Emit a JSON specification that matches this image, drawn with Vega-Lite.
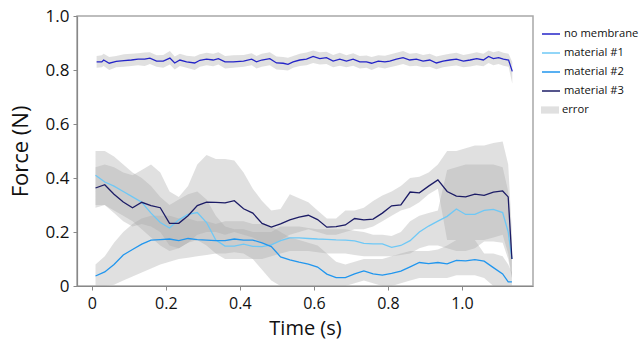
{
  "$schema": "https://vega.github.io/schema/vega-lite/v6.json",
  "width": 456,
  "height": 270,
  "autosize": "none",
  "padding": {"left": 77, "top": 16, "right": 106, "bottom": 55},
  "background": "white",
  "config": {
    "font": "Open Sans",
    "view": {"stroke": "#a8a8a8", "strokeWidth": 1.5},
    "axis": {"grid": false, "domainColor": "#888888", "domainWidth": 1.2, "tickColor": "#888888", "tickSize": 4, "labelColor": "#111111", "titleColor": "#111111", "labelFont": "Open Sans", "titleFont": "Open Sans", "titleFontWeight": "normal"},
    "legend": {"labelFont": "Open Sans", "labelFontSize": 11.2, "labelColor": "#111111", "orient": "none", "padding": 0, "rowPadding": 3, "labelOffset": 3}
  },
  "data": {"values": [
    {"s":"material #1","t":0.01,"v":0.41,"lo":0.30,"hi":0.50},
    {"s":"material #1","t":0.035,"v":0.385,"lo":0.30,"hi":0.50},
    {"s":"material #1","t":0.06,"v":0.37,"lo":0.28,"hi":0.48},
    {"s":"material #1","t":0.085,"v":0.35,"lo":0.26,"hi":0.45},
    {"s":"material #1","t":0.11,"v":0.33,"lo":0.24,"hi":0.42},
    {"s":"material #1","t":0.135,"v":0.31,"lo":0.21,"hi":0.40},
    {"s":"material #1","t":0.16,"v":0.27,"lo":0.18,"hi":0.37},
    {"s":"material #1","t":0.185,"v":0.235,"lo":0.15,"hi":0.33},
    {"s":"material #1","t":0.21,"v":0.215,"lo":0.13,"hi":0.30},
    {"s":"material #1","t":0.235,"v":0.245,"lo":0.14,"hi":0.32},
    {"s":"material #1","t":0.26,"v":0.265,"lo":0.16,"hi":0.34},
    {"s":"material #1","t":0.285,"v":0.272,"lo":0.17,"hi":0.35},
    {"s":"material #1","t":0.31,"v":0.235,"lo":0.15,"hi":0.32},
    {"s":"material #1","t":0.335,"v":0.17,"lo":0.12,"hi":0.26},
    {"s":"material #1","t":0.36,"v":0.148,"lo":0.10,"hi":0.22},
    {"s":"material #1","t":0.385,"v":0.148,"lo":0.10,"hi":0.21},
    {"s":"material #1","t":0.41,"v":0.155,"lo":0.10,"hi":0.21},
    {"s":"material #1","t":0.435,"v":0.147,"lo":0.10,"hi":0.20},
    {"s":"material #1","t":0.46,"v":0.146,"lo":0.10,"hi":0.20},
    {"s":"material #1","t":0.485,"v":0.152,"lo":0.11,"hi":0.20},
    {"s":"material #1","t":0.51,"v":0.168,"lo":0.12,"hi":0.22},
    {"s":"material #1","t":0.535,"v":0.178,"lo":0.13,"hi":0.22},
    {"s":"material #1","t":0.56,"v":0.178,"lo":0.13,"hi":0.22},
    {"s":"material #1","t":0.585,"v":0.176,"lo":0.13,"hi":0.215},
    {"s":"material #1","t":0.61,"v":0.174,"lo":0.125,"hi":0.21},
    {"s":"material #1","t":0.635,"v":0.173,"lo":0.12,"hi":0.21},
    {"s":"material #1","t":0.66,"v":0.171,"lo":0.12,"hi":0.21},
    {"s":"material #1","t":0.685,"v":0.17,"lo":0.12,"hi":0.21},
    {"s":"material #1","t":0.71,"v":0.167,"lo":0.115,"hi":0.205},
    {"s":"material #1","t":0.735,"v":0.158,"lo":0.11,"hi":0.20},
    {"s":"material #1","t":0.76,"v":0.156,"lo":0.11,"hi":0.19},
    {"s":"material #1","t":0.785,"v":0.156,"lo":0.11,"hi":0.19},
    {"s":"material #1","t":0.81,"v":0.143,"lo":0.11,"hi":0.185},
    {"s":"material #1","t":0.835,"v":0.15,"lo":0.115,"hi":0.20},
    {"s":"material #1","t":0.86,"v":0.168,"lo":0.12,"hi":0.24},
    {"s":"material #1","t":0.885,"v":0.20,"lo":0.14,"hi":0.26},
    {"s":"material #1","t":0.91,"v":0.222,"lo":0.15,"hi":0.27},
    {"s":"material #1","t":0.935,"v":0.24,"lo":0.15,"hi":0.28},
    {"s":"material #1","t":0.96,"v":0.258,"lo":0.14,"hi":0.43},
    {"s":"material #1","t":0.985,"v":0.285,"lo":0.13,"hi":0.44},
    {"s":"material #1","t":1.01,"v":0.265,"lo":0.13,"hi":0.45},
    {"s":"material #1","t":1.035,"v":0.265,"lo":0.14,"hi":0.45},
    {"s":"material #1","t":1.06,"v":0.28,"lo":0.165,"hi":0.45},
    {"s":"material #1","t":1.085,"v":0.284,"lo":0.165,"hi":0.45},
    {"s":"material #1","t":1.11,"v":0.272,"lo":0.16,"hi":0.44},
    {"s":"material #1","t":1.125,"v":0.20,"lo":0.10,"hi":0.35},
    {"s":"material #1","t":1.135,"v":0.10,"lo":0.03,"hi":0.15},

    {"s":"material #2","t":0.01,"v":0.037,"lo":0.0,"hi":0.08},
    {"s":"material #2","t":0.035,"v":0.052,"lo":0.0,"hi":0.11},
    {"s":"material #2","t":0.06,"v":0.08,"lo":0.005,"hi":0.16},
    {"s":"material #2","t":0.085,"v":0.115,"lo":0.02,"hi":0.20},
    {"s":"material #2","t":0.11,"v":0.135,"lo":0.035,"hi":0.23},
    {"s":"material #2","t":0.135,"v":0.155,"lo":0.05,"hi":0.25},
    {"s":"material #2","t":0.16,"v":0.17,"lo":0.065,"hi":0.26},
    {"s":"material #2","t":0.185,"v":0.172,"lo":0.08,"hi":0.26},
    {"s":"material #2","t":0.21,"v":0.174,"lo":0.09,"hi":0.26},
    {"s":"material #2","t":0.235,"v":0.168,"lo":0.10,"hi":0.25},
    {"s":"material #2","t":0.26,"v":0.176,"lo":0.105,"hi":0.25},
    {"s":"material #2","t":0.285,"v":0.172,"lo":0.11,"hi":0.24},
    {"s":"material #2","t":0.31,"v":0.17,"lo":0.115,"hi":0.24},
    {"s":"material #2","t":0.335,"v":0.168,"lo":0.12,"hi":0.23},
    {"s":"material #2","t":0.36,"v":0.168,"lo":0.12,"hi":0.24},
    {"s":"material #2","t":0.385,"v":0.174,"lo":0.125,"hi":0.24},
    {"s":"material #2","t":0.41,"v":0.17,"lo":0.12,"hi":0.24},
    {"s":"material #2","t":0.435,"v":0.17,"lo":0.10,"hi":0.23},
    {"s":"material #2","t":0.46,"v":0.16,"lo":0.06,"hi":0.23},
    {"s":"material #2","t":0.485,"v":0.146,"lo":0.02,"hi":0.22},
    {"s":"material #2","t":0.51,"v":0.108,"lo":0.0,"hi":0.20},
    {"s":"material #2","t":0.535,"v":0.097,"lo":0.0,"hi":0.18},
    {"s":"material #2","t":0.56,"v":0.088,"lo":0.0,"hi":0.17},
    {"s":"material #2","t":0.585,"v":0.081,"lo":0.0,"hi":0.16},
    {"s":"material #2","t":0.61,"v":0.07,"lo":0.0,"hi":0.15},
    {"s":"material #2","t":0.635,"v":0.044,"lo":0.0,"hi":0.12},
    {"s":"material #2","t":0.66,"v":0.031,"lo":0.0,"hi":0.09},
    {"s":"material #2","t":0.685,"v":0.031,"lo":0.0,"hi":0.08},
    {"s":"material #2","t":0.71,"v":0.045,"lo":0.01,"hi":0.09},
    {"s":"material #2","t":0.735,"v":0.056,"lo":0.02,"hi":0.10},
    {"s":"material #2","t":0.76,"v":0.045,"lo":0.01,"hi":0.10},
    {"s":"material #2","t":0.785,"v":0.04,"lo":0.0,"hi":0.10},
    {"s":"material #2","t":0.81,"v":0.047,"lo":0.0,"hi":0.11},
    {"s":"material #2","t":0.835,"v":0.055,"lo":0.01,"hi":0.12},
    {"s":"material #2","t":0.86,"v":0.071,"lo":0.02,"hi":0.13},
    {"s":"material #2","t":0.885,"v":0.087,"lo":0.03,"hi":0.13},
    {"s":"material #2","t":0.91,"v":0.083,"lo":0.03,"hi":0.13},
    {"s":"material #2","t":0.935,"v":0.087,"lo":0.03,"hi":0.135},
    {"s":"material #2","t":0.96,"v":0.082,"lo":0.03,"hi":0.15},
    {"s":"material #2","t":0.985,"v":0.095,"lo":0.04,"hi":0.17},
    {"s":"material #2","t":1.01,"v":0.093,"lo":0.04,"hi":0.17},
    {"s":"material #2","t":1.035,"v":0.098,"lo":0.04,"hi":0.17},
    {"s":"material #2","t":1.06,"v":0.092,"lo":0.03,"hi":0.12},
    {"s":"material #2","t":1.085,"v":0.068,"lo":0.0,"hi":0.12},
    {"s":"material #2","t":1.11,"v":0.045,"lo":0.0,"hi":0.11},
    {"s":"material #2","t":1.125,"v":0.015,"lo":0.0,"hi":0.08},
    {"s":"material #2","t":1.135,"v":0.015,"lo":0.0,"hi":0.05},

    {"s":"material #3","t":0.01,"v":0.363,"lo":0.29,"hi":0.44},
    {"s":"material #3","t":0.035,"v":0.375,"lo":0.30,"hi":0.45},
    {"s":"material #3","t":0.06,"v":0.34,"lo":0.27,"hi":0.44},
    {"s":"material #3","t":0.085,"v":0.311,"lo":0.24,"hi":0.42},
    {"s":"material #3","t":0.11,"v":0.29,"lo":0.22,"hi":0.41},
    {"s":"material #3","t":0.135,"v":0.31,"lo":0.23,"hi":0.43},
    {"s":"material #3","t":0.16,"v":0.298,"lo":0.22,"hi":0.45},
    {"s":"material #3","t":0.185,"v":0.29,"lo":0.20,"hi":0.42},
    {"s":"material #3","t":0.21,"v":0.232,"lo":0.15,"hi":0.35},
    {"s":"material #3","t":0.235,"v":0.232,"lo":0.14,"hi":0.33},
    {"s":"material #3","t":0.26,"v":0.26,"lo":0.16,"hi":0.37},
    {"s":"material #3","t":0.285,"v":0.298,"lo":0.19,"hi":0.45},
    {"s":"material #3","t":0.31,"v":0.311,"lo":0.20,"hi":0.485},
    {"s":"material #3","t":0.335,"v":0.31,"lo":0.20,"hi":0.47},
    {"s":"material #3","t":0.36,"v":0.308,"lo":0.19,"hi":0.47},
    {"s":"material #3","t":0.385,"v":0.316,"lo":0.20,"hi":0.465},
    {"s":"material #3","t":0.41,"v":0.286,"lo":0.19,"hi":0.42},
    {"s":"material #3","t":0.435,"v":0.27,"lo":0.18,"hi":0.36},
    {"s":"material #3","t":0.46,"v":0.232,"lo":0.16,"hi":0.315},
    {"s":"material #3","t":0.485,"v":0.218,"lo":0.15,"hi":0.28},
    {"s":"material #3","t":0.51,"v":0.23,"lo":0.17,"hi":0.285},
    {"s":"material #3","t":0.535,"v":0.245,"lo":0.19,"hi":0.34},
    {"s":"material #3","t":0.56,"v":0.255,"lo":0.20,"hi":0.325},
    {"s":"material #3","t":0.585,"v":0.262,"lo":0.21,"hi":0.31},
    {"s":"material #3","t":0.61,"v":0.246,"lo":0.20,"hi":0.28},
    {"s":"material #3","t":0.635,"v":0.218,"lo":0.19,"hi":0.25},
    {"s":"material #3","t":0.66,"v":0.22,"lo":0.19,"hi":0.25},
    {"s":"material #3","t":0.685,"v":0.226,"lo":0.20,"hi":0.28},
    {"s":"material #3","t":0.71,"v":0.25,"lo":0.21,"hi":0.28},
    {"s":"material #3","t":0.735,"v":0.245,"lo":0.21,"hi":0.29},
    {"s":"material #3","t":0.76,"v":0.248,"lo":0.22,"hi":0.315},
    {"s":"material #3","t":0.785,"v":0.27,"lo":0.24,"hi":0.335},
    {"s":"material #3","t":0.81,"v":0.297,"lo":0.26,"hi":0.35},
    {"s":"material #3","t":0.835,"v":0.30,"lo":0.28,"hi":0.37},
    {"s":"material #3","t":0.86,"v":0.348,"lo":0.29,"hi":0.40},
    {"s":"material #3","t":0.885,"v":0.345,"lo":0.31,"hi":0.405},
    {"s":"material #3","t":0.91,"v":0.37,"lo":0.34,"hi":0.42},
    {"s":"material #3","t":0.935,"v":0.393,"lo":0.36,"hi":0.45},
    {"s":"material #3","t":0.96,"v":0.35,"lo":0.17,"hi":0.50},
    {"s":"material #3","t":0.985,"v":0.333,"lo":0.17,"hi":0.50},
    {"s":"material #3","t":1.01,"v":0.33,"lo":0.17,"hi":0.51},
    {"s":"material #3","t":1.035,"v":0.34,"lo":0.17,"hi":0.52},
    {"s":"material #3","t":1.06,"v":0.336,"lo":0.17,"hi":0.52},
    {"s":"material #3","t":1.085,"v":0.348,"lo":0.18,"hi":0.53},
    {"s":"material #3","t":1.11,"v":0.352,"lo":0.19,"hi":0.535},
    {"s":"material #3","t":1.125,"v":0.33,"lo":0.12,"hi":0.45},
    {"s":"material #3","t":1.135,"v":0.10,"lo":0.03,"hi":0.20},

    {"s":"no membrane","t":0.013,"v":0.830,"lo":0.808,"hi":0.852},
    {"s":"no membrane","t":0.027,"v":0.830,"lo":0.810,"hi":0.855},
    {"s":"no membrane","t":0.032,"v":0.837,"lo":0.815,"hi":0.860},
    {"s":"no membrane","t":0.047,"v":0.825,"lo":0.800,"hi":0.848},
    {"s":"no membrane","t":0.066,"v":0.832,"lo":0.810,"hi":0.852},
    {"s":"no membrane","t":0.087,"v":0.835,"lo":0.812,"hi":0.858},
    {"s":"no membrane","t":0.107,"v":0.837,"lo":0.815,"hi":0.860},
    {"s":"no membrane","t":0.125,"v":0.840,"lo":0.818,"hi":0.862},
    {"s":"no membrane","t":0.143,"v":0.840,"lo":0.815,"hi":0.865},
    {"s":"no membrane","t":0.157,"v":0.844,"lo":0.822,"hi":0.866},
    {"s":"no membrane","t":0.175,"v":0.833,"lo":0.812,"hi":0.855},
    {"s":"no membrane","t":0.193,"v":0.833,"lo":0.808,"hi":0.856},
    {"s":"no membrane","t":0.211,"v":0.844,"lo":0.820,"hi":0.870},
    {"s":"no membrane","t":0.224,"v":0.826,"lo":0.802,"hi":0.850},
    {"s":"no membrane","t":0.238,"v":0.837,"lo":0.815,"hi":0.860},
    {"s":"no membrane","t":0.256,"v":0.830,"lo":0.808,"hi":0.853},
    {"s":"no membrane","t":0.278,"v":0.826,"lo":0.800,"hi":0.850},
    {"s":"no membrane","t":0.292,"v":0.836,"lo":0.812,"hi":0.858},
    {"s":"no membrane","t":0.310,"v":0.840,"lo":0.818,"hi":0.864},
    {"s":"no membrane","t":0.328,"v":0.837,"lo":0.814,"hi":0.860},
    {"s":"no membrane","t":0.342,"v":0.842,"lo":0.820,"hi":0.866},
    {"s":"no membrane","t":0.360,"v":0.830,"lo":0.806,"hi":0.852},
    {"s":"no membrane","t":0.382,"v":0.830,"lo":0.808,"hi":0.855},
    {"s":"no membrane","t":0.410,"v":0.833,"lo":0.812,"hi":0.856},
    {"s":"no membrane","t":0.432,"v":0.840,"lo":0.818,"hi":0.862},
    {"s":"no membrane","t":0.445,"v":0.830,"lo":0.806,"hi":0.852},
    {"s":"no membrane","t":0.459,"v":0.837,"lo":0.812,"hi":0.860},
    {"s":"no membrane","t":0.481,"v":0.842,"lo":0.818,"hi":0.866},
    {"s":"no membrane","t":0.499,"v":0.826,"lo":0.802,"hi":0.850},
    {"s":"no membrane","t":0.517,"v":0.825,"lo":0.800,"hi":0.848},
    {"s":"no membrane","t":0.530,"v":0.821,"lo":0.798,"hi":0.845},
    {"s":"no membrane","t":0.544,"v":0.830,"lo":0.808,"hi":0.852},
    {"s":"no membrane","t":0.562,"v":0.837,"lo":0.815,"hi":0.860},
    {"s":"no membrane","t":0.580,"v":0.840,"lo":0.818,"hi":0.865},
    {"s":"no membrane","t":0.598,"v":0.850,"lo":0.826,"hi":0.872},
    {"s":"no membrane","t":0.616,"v":0.842,"lo":0.820,"hi":0.866},
    {"s":"no membrane","t":0.634,"v":0.846,"lo":0.822,"hi":0.868},
    {"s":"no membrane","t":0.652,"v":0.833,"lo":0.810,"hi":0.856},
    {"s":"no membrane","t":0.670,"v":0.840,"lo":0.816,"hi":0.864},
    {"s":"no membrane","t":0.688,"v":0.833,"lo":0.810,"hi":0.855},
    {"s":"no membrane","t":0.706,"v":0.840,"lo":0.816,"hi":0.862},
    {"s":"no membrane","t":0.724,"v":0.830,"lo":0.806,"hi":0.852},
    {"s":"no membrane","t":0.742,"v":0.830,"lo":0.808,"hi":0.854},
    {"s":"no membrane","t":0.756,"v":0.825,"lo":0.800,"hi":0.848},
    {"s":"no membrane","t":0.774,"v":0.833,"lo":0.810,"hi":0.855},
    {"s":"no membrane","t":0.792,"v":0.830,"lo":0.806,"hi":0.853},
    {"s":"no membrane","t":0.805,"v":0.833,"lo":0.810,"hi":0.857},
    {"s":"no membrane","t":0.823,"v":0.840,"lo":0.816,"hi":0.864},
    {"s":"no membrane","t":0.841,"v":0.846,"lo":0.822,"hi":0.870},
    {"s":"no membrane","t":0.859,"v":0.837,"lo":0.814,"hi":0.860},
    {"s":"no membrane","t":0.877,"v":0.840,"lo":0.816,"hi":0.863},
    {"s":"no membrane","t":0.895,"v":0.833,"lo":0.810,"hi":0.856},
    {"s":"no membrane","t":0.913,"v":0.837,"lo":0.812,"hi":0.860},
    {"s":"no membrane","t":0.931,"v":0.826,"lo":0.803,"hi":0.850},
    {"s":"no membrane","t":0.949,"v":0.833,"lo":0.810,"hi":0.856},
    {"s":"no membrane","t":0.967,"v":0.837,"lo":0.814,"hi":0.860},
    {"s":"no membrane","t":0.985,"v":0.840,"lo":0.817,"hi":0.864},
    {"s":"no membrane","t":1.004,"v":0.833,"lo":0.810,"hi":0.856},
    {"s":"no membrane","t":1.022,"v":0.837,"lo":0.813,"hi":0.860},
    {"s":"no membrane","t":1.040,"v":0.842,"lo":0.818,"hi":0.866},
    {"s":"no membrane","t":1.058,"v":0.837,"lo":0.814,"hi":0.860},
    {"s":"no membrane","t":1.072,"v":0.850,"lo":0.826,"hi":0.872},
    {"s":"no membrane","t":1.085,"v":0.842,"lo":0.818,"hi":0.866},
    {"s":"no membrane","t":1.099,"v":0.846,"lo":0.822,"hi":0.870},
    {"s":"no membrane","t":1.112,"v":0.840,"lo":0.816,"hi":0.864},
    {"s":"no membrane","t":1.126,"v":0.837,"lo":0.812,"hi":0.860},
    {"s":"no membrane","t":1.136,"v":0.795,"lo":0.750,"hi":0.830}
  ]},
  "encoding": {
    "x": {"field": "t", "type": "quantitative", "scale": {"domain": [-0.04, 1.192], "nice": false, "zero": false},
      "axis": {"values": [0, 0.2, 0.4, 0.6, 0.8, 1.0], "labelExpr": "datum.value == 0 ? '0' : format(datum.value, '.1f')", "title": "Time (s)", "labelFontSize": 16, "titleFontSize": 20, "labelPadding": 5, "titlePadding": 7}}
  },
  "layer": [
    {
      "mark": {"type": "area", "opacity": 0.35, "interpolate": "linear"},
      "encoding": {
        "y": {"field": "lo", "type": "quantitative", "scale": {"domain": [0, 1], "nice": false},
          "axis": {"values": [0, 0.2, 0.4, 0.6, 0.8, 1.0], "labelExpr": "datum.value == 0 ? '0' : format(datum.value, '.1f')", "title": "Force (N)", "labelFontSize": 17, "titleFontSize": 22, "labelPadding": 4, "titlePadding": 13}},
        "y2": {"field": "hi"},
        "detail": {"field": "s"},
        "fill": {"datum": "error", "type": "nominal", "scale": {"domain": ["error"], "range": ["#a6a6a6"]},
          "legend": {"title": null, "orient": "none", "legendX": 464, "legendY": 85, "symbolType": "M-1,-0.4H1V0.4H-1Z", "symbolSize": 324, "symbolOpacity": 0.35, "symbolStrokeWidth": 0}}
      }
    },
    {
      "mark": {"type": "line", "strokeWidth": 1.3, "interpolate": "linear"},
      "encoding": {
        "y": {"field": "v", "type": "quantitative"},
        "color": {"field": "s", "type": "nominal",
          "scale": {"domain": ["no membrane", "material #1", "material #2", "material #3"], "range": ["#2424c8", "#6ec8f6", "#2196ee", "#1c1c66"]},
          "legend": {"title": null, "orient": "none", "legendX": 464, "legendY": 8, "symbolType": "stroke", "symbolSize": 324, "symbolStrokeWidth": 1.5}}
      }
    }
  ]
}
